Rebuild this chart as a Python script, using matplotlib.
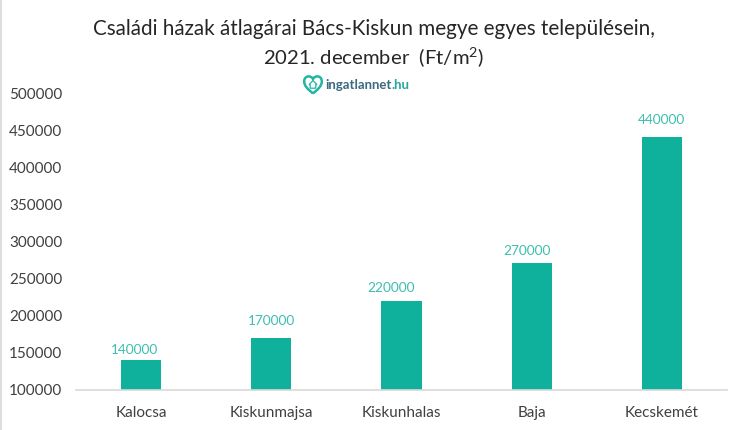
import matplotlib.pyplot as plt
from matplotlib.patches import PathPatch, Polygon
from matplotlib.path import Path

plt.rcParams["font.family"] = ["Lato", "DejaVu Sans"]
plt.rcParams["mathtext.fontset"] = "custom"
plt.rcParams["mathtext.rm"] = "Lato"

# values
cities = ["Kalocsa", "Kiskunmajsa", "Kiskunhalas", "Baja", "Kecskemét"]
prices = [140000, 170000, 220000, 270000, 440000]
yticks = [100000, 150000, 200000, 250000, 300000, 350000, 400000, 450000, 500000]

# the labels were placed by hand in the original, offsets in pixels from the bar top
label_dx = [-7, 0, -10, -5, 0]
label_dy = [10, 17, 13, 12, 17]

bar_color = "#0fb09c"
label_color = "#3cbfae"
text_color = "#404040"

fig = plt.figure(figsize=(7.5, 4.3), dpi=100)
ax = fig.add_axes([76 / 750, 1 - 389.5 / 430, (727 - 76) / 750, (389.5 - 93) / 430])

x = list(range(len(cities)))
ax.bar(x, prices, width=0.31, color=bar_color)
for xi, p, dx, dy in zip(x, prices, label_dx, label_dy):
    ax.annotate(str(p), (xi, p), xytext=(dx * 0.72, dy * 0.72), textcoords="offset points",
                ha="center", va="center", fontsize=9.8, color=label_color)

ax.set_ylim(100000, 500000)
ax.set_xlim(-0.5, 4.5)
ax.set_yticks(yticks)
ax.set_yticklabels([str(t) for t in yticks])
ax.set_xticks(x)
ax.set_xticklabels(cities)
ax.tick_params(axis="both", length=0, labelsize=11, labelcolor=text_color)
ax.tick_params(axis="x", pad=12)
ax.tick_params(axis="y", pad=10)
for side in ["top", "right", "left"]:
    ax.spines[side].set_visible(False)
ax.spines["bottom"].set_color("#d9d9d9")
ax.spines["bottom"].set_linewidth(1.2)

fig.text(374 / 750, 1 - 29 / 430, "Családi házak átlagárai Bács-Kiskun megye egyes településein,",
         ha="center", va="center", fontsize=14.85, color="#262626")
fig.text(374 / 750, 1 - 58 / 430, "2021. december  (Ft/m$^{2}$)",
         ha="center", va="center", fontsize=14.6, color="#262626")

# logo: heart outline with a small house, site name next to it
fig.text(325 / 750, 1 - 85 / 430, "ingatlannet", ha="left", va="center", fontsize=9.5,
         fontweight="bold", color="#3b6b80")
fig.text(391 / 750, 1 - 85 / 430, ".hu", ha="left", va="center", fontsize=9.5,
         fontweight="bold", color="#2aa79b")
logo = fig.add_axes([303 / 750, 1 - 95 / 430, 20 / 750, 20 / 430])
logo.axis("off")
logo.set_xlim(0, 1)
logo.set_ylim(0, 1)
heart = Path(
    [(0.5, 0.08), (0.25, 0.28), (0.06, 0.45), (0.06, 0.68), (0.06, 0.98), (0.4, 1.0), (0.5, 0.8),
     (0.6, 1.0), (0.94, 0.98), (0.94, 0.68), (0.94, 0.45), (0.75, 0.28), (0.5, 0.08)],
    [Path.MOVETO, Path.CURVE4, Path.CURVE4, Path.CURVE4, Path.CURVE4, Path.CURVE4, Path.CURVE4,
     Path.CURVE4, Path.CURVE4, Path.CURVE4, Path.CURVE4, Path.CURVE4, Path.CURVE4],
)
logo.add_patch(PathPatch(heart, facecolor="white", edgecolor="#22b5a3", lw=1.8))
logo.add_patch(Polygon([(0.5, 0.72), (0.7, 0.52), (0.64, 0.52), (0.64, 0.34), (0.36, 0.34),
                        (0.36, 0.52), (0.3, 0.52)], closed=True, facecolor="none",
                       edgecolor="#22b5a3", lw=0.9))

# thin grey edge on the left side of the picture
fig.add_artist(plt.Line2D([1 / 750, 1 / 750], [0, 1], color="#dddddd", lw=1.5))

fig.savefig("out.png", dpi=100)
